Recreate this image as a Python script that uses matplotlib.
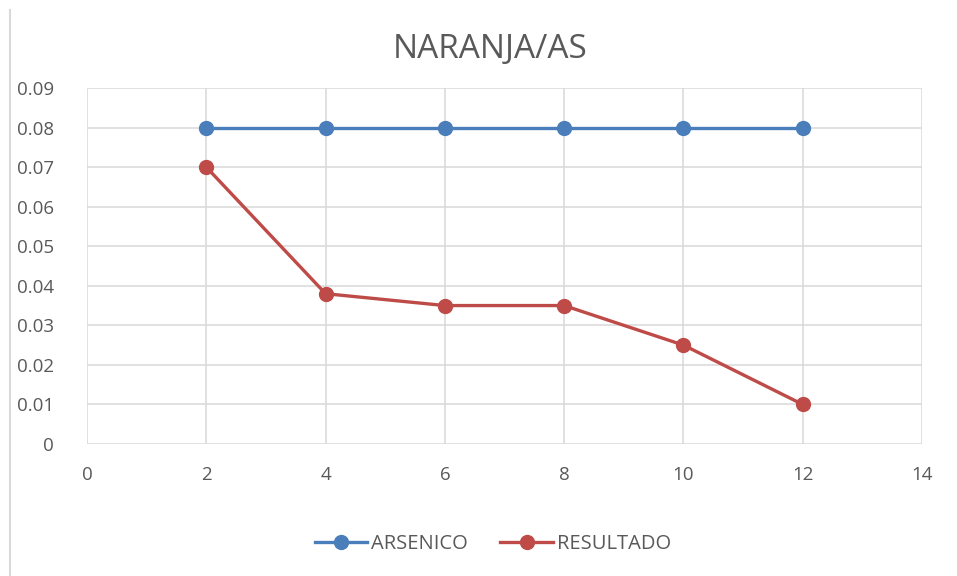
import matplotlib
matplotlib.use("Agg")
import matplotlib.pyplot as plt
from matplotlib.lines import Line2D

x = [2, 4, 6, 8, 10, 12]
arsenico = [0.08, 0.08, 0.08, 0.08, 0.08, 0.08]
resultado = [0.07, 0.038, 0.035, 0.035, 0.025, 0.01]
xticks = [0, 2, 4, 6, 8, 10, 12, 14]
yticks = [0, 0.01, 0.02, 0.03, 0.04, 0.05, 0.06, 0.07, 0.08, 0.09]
ytick_labels = ["0", "0.01", "0.02", "0.03", "0.04", "0.05", "0.06", "0.07", "0.08", "0.09"]

plt.rcParams['font.family'] = ['Open Sans', 'DejaVu Sans']
TXT = '#595959'
BLUE = '#4A7EBB'
RED = '#BE4B48'

fig = plt.figure(figsize=(9.57, 5.76), dpi=100)
ax = fig.add_axes([87/957, 1-444/576, (922-87)/957, (444-88)/576])

ax.plot(x, arsenico, color=BLUE, lw=2.4, marker='o', ms=10, zorder=3, label='ARSENICO')
ax.plot(x, resultado, color=RED, lw=2.4, marker='o', ms=10, zorder=3, label='RESULTADO')

ax.set_xlim(0, 14)
ax.set_ylim(0, 0.09)
ax.set_xticks(xticks)
ax.set_xticklabels([str(v) for v in xticks])
ax.set_yticks(yticks)
ax.set_yticklabels(ytick_labels)
ax.grid(True, color='#D9D9D9', lw=1.1)
ax.set_axisbelow(True)
for s in ax.spines.values():
    s.set_visible(False)
ax.tick_params(length=0, labelsize=13.5, colors=TXT)
ax.tick_params(axis='y', pad=24)
ax.tick_params(axis='x', pad=16)

fig.text(490/957, 1-50/576, 'NARANJA/AS', ha='center', va='center', fontsize=24, color=TXT)

fig.legend(handles=[Line2D([], [], color=BLUE, lw=2.4, marker='o', ms=10),
                    Line2D([], [], color=RED, lw=2.4, marker='o', ms=10)],
           labels=['ARSENICO', 'RESULTADO'], loc='center', bbox_to_anchor=(493/957, 1-544/576),
           ncol=2, frameon=False, fontsize=14.5, labelcolor=TXT, handlelength=2.6,
           columnspacing=1.6, handletextpad=0.2)

fig.add_artist(Line2D([10/957, 10/957], [0, 1-10/576], color='#D9D9D9', lw=1.5, transform=fig.transFigure))

fig.savefig('out.png', dpi=100)
